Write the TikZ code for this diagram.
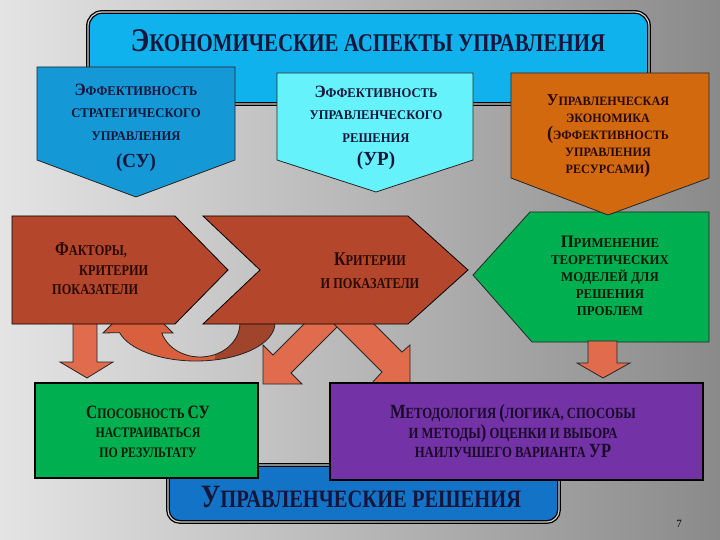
\documentclass[tikz,border=0pt]{standalone}
\usepackage{fontspec}
\usepackage{graphicx}
\setmainfont{Liberation Serif}
\newfontfamily\fc[FakeStretch=0.82]{Liberation Serif}
\newfontfamily\fn[FakeStretch=0.95]{Liberation Serif}
\newcommand\ini[1]{\scalebox{1.3}{#1}}
\newcommand\inib[1]{\scalebox{1.5}{#1}}
\definecolor{bgl}{HTML}{E4E4E4}
\definecolor{bgr}{HTML}{8A8A8A}
\definecolor{tblue}{HTML}{10B2EE}
\definecolor{pone}{HTML}{1598D6}
\definecolor{ptwo}{HTML}{66F2FA}
\definecolor{pthree}{HTML}{D2690F}
\definecolor{brownc}{HTML}{B4462C}
\definecolor{salmon}{HTML}{E06B4D}
\definecolor{curvel}{HTML}{D9603F}
\definecolor{curved}{HTML}{A0442B}
\definecolor{gbox}{HTML}{00AF50}
\definecolor{purp}{HTML}{7333A6}
\definecolor{bblue}{HTML}{1373C6}
\definecolor{navy}{HTML}{16163A}
\definecolor{dbrown}{HTML}{2A0A05}
\definecolor{dgreen}{HTML}{0A1A0A}
\definecolor{dpurp}{HTML}{1A0A2A}
\newcommand\curvepath{(103,333) -- (113,323) -- (163,323) -- (173,333) -- (161.8,333)
  arc[start angle=162.9, end angle=0, x radius=40, y radius=34] -- (275,323)
  arc[start angle=0, end angle=165.3, x radius=79, y radius=38] -- cycle}
\tikzset{
  shp/.style={draw=black!85, line width=0.8pt, line join=miter},
  bx/.style={draw=black, line width=1.6pt},
  dbl/.style={draw=black, line width=1.3pt, double=gray!35, double distance=1.2pt},
  lbl/.style={inner sep=0pt, align=center, anchor=north},
  fsm/.style={font=\fn\bfseries\fontsize{13.3}{22.5}\selectfont},
}
\begin{document}
\begin{tikzpicture}[x=1pt,y=-1pt]
\useasboundingbox (0,0) rectangle (720,540);
\shade[left color=bgl, right color=bgr] (0,0) rectangle (720,540);
% title box
\draw[dbl, fill=tblue, rounded corners=14pt] (88,104) -- (88,12) -- (649,12) -- (649,104) -- cycle;
\node[anchor=base, inner sep=0pt, text=navy, font=\fc\bfseries\fontsize{25.5}{28}\selectfont] (title) at (368,52) {\ini{Э}КОНОМИЧЕСКИЕ АСПЕКТЫ УПРАВЛЕНИЯ};
% pentagons
\draw[shp, fill=pone] (37,67) -- (235,67) -- (235,160) -- (136,197) -- (37,160) -- cycle;
\draw[shp, fill=ptwo] (277,73) -- (473,73) -- (473,160) -- (376,192) -- (277,160) -- cycle;
\draw[shp, fill=gbox] (530,212) -- (709,212) -- (709,342) -- (532,342) -- (473,275) -- cycle;
\draw[shp, fill=pthree] (511,73) -- (709,73) -- (709,178) -- (608,215) -- (511,178) -- cycle;
\node[lbl, fsm, text=navy] (su) at (136,83.6) {\ini{Э}ФФЕКТИВНОСТЬ\\СТРАТЕГИЧЕСКОГО\\УПРАВЛЕНИЯ\\[5pt]\inib{(СУ)}};
\node[lbl, fsm, text=navy] (ur) at (376,85.6) {\ini{Э}ФФЕКТИВНОСТЬ\\УПРАВЛЕНЧЕСКОГО\\РЕШЕНИЯ\\[1pt]\inib{(УР)}};
\node[lbl, text=dbrown, font=\fn\bfseries\fontsize{12.8}{17}\selectfont] (ue) at (608,94) {\ini{У}ПРАВЛЕНЧЕСКАЯ\\ЭКОНОМИКА\\\inib{(}ЭФФЕКТИВНОСТЬ\\УПРАВЛЕНИЯ\\РЕСУРСАМИ\inib{)}};
\node[lbl, text=dgreen, font=\fn\bfseries\fontsize{13.5}{17}\selectfont] (tm) at (610,235.5) {\ini{П}РИМЕНЕНИЕ\\ТЕОРЕТИЧЕСКИХ\\МОДЕЛЕЙ ДЛЯ\\РЕШЕНИЯ\\ПРОБЛЕМ};
% curved arrow
\fill[curvel] \curvepath;
\begin{scope}
  \clip (215,300) rectangle (300,380);
  \fill[curved] \curvepath;
\end{scope}
\draw[shp] \curvepath;
% crossing arrows
\draw[shp, fill=salmon] (305,323) -- (341,323) -- (291,373) -- (302,384) -- (263,384) -- (263,345) -- (273,355) -- cycle;
\draw[shp, fill=salmon] (333,323) -- (373,323) -- (402,352) -- (410,345) -- (410,384) -- (371,384) -- (382,372) -- cycle;
% down arrows
\draw[shp, fill=salmon] (73,322) -- (97,322) -- (97,362) -- (113,362) -- (87,378) -- (60,362) -- (73,362) -- cycle;
\draw[shp, fill=salmon] (588,341) -- (617,341) -- (617,363) -- (630,363) -- (603,378) -- (577,363) -- (588,363) -- cycle;
% chevrons
\draw[shp, draw=black, fill=brownc] (12,216) -- (175,216) -- (228,270) -- (175,324) -- (12,324) -- cycle;
\draw[shp, draw=black, fill=brownc] (203,216) -- (408,216) -- (468,270) -- (408,324) -- (203,324) -- (260,270) -- cycle;
\node[inner sep=0pt, align=left, anchor=north west, text=dbrown, font=\fc\bfseries\fontsize{15}{19.5}\selectfont] (fk) at (52,243) {\hspace*{3pt}\ini{Ф}АКТОРЫ,\\\hspace*{27pt}КРИТЕРИИ\\ПОКАЗАТЕЛИ};
\node[lbl, text=dbrown, font=\fc\bfseries\fontsize{15}{23}\selectfont] (kp) at (370,253) {\ini{К}РИТЕРИИ\\И ПОКАЗАТЕЛИ};
% bottom box
\draw[dbl, fill=bblue, rounded corners=12pt] (168,465) rectangle (559,522);
\node[anchor=base, inner sep=0pt, text=navy, font=\fc\bfseries\fontsize{25}{28}\selectfont] (urs) at (361,507) {\ini{У}ПРАВЛЕНЧЕСКИЕ РЕШЕНИЯ};
% green and purple boxes
\draw[bx, fill=gbox] (35,383) rectangle (258,478);
\draw[bx, fill=purp] (330,383) rectangle (703,480);
\node[lbl, text=dgreen, font=\fc\bfseries\fontsize{14.5}{19.5}\selectfont] (sp) at (148,405.6) {\ini{С}ПОСОБНОСТЬ \ini{СУ}\\НАСТРАИВАТЬСЯ\\ПО РЕЗУЛЬТАТУ};
\node[lbl, text=dpurp, font=\fc\bfseries\fontsize{15.5}{19.5}\selectfont] (mt) at (513,404.8) {\ini{М}ЕТОДОЛОГИЯ \ini{(}ЛОГИКА, СПОСОБЫ\\И МЕТОДЫ\ini{)} ОЦЕНКИ И ВЫБОРА\\НАИЛУЧШЕГО ВАРИАНТА \ini{УР}};
\node[inner sep=0pt, font=\fontsize{11}{11}\selectfont] (pg) at (679,524) {7};
\end{tikzpicture}
\end{document}
